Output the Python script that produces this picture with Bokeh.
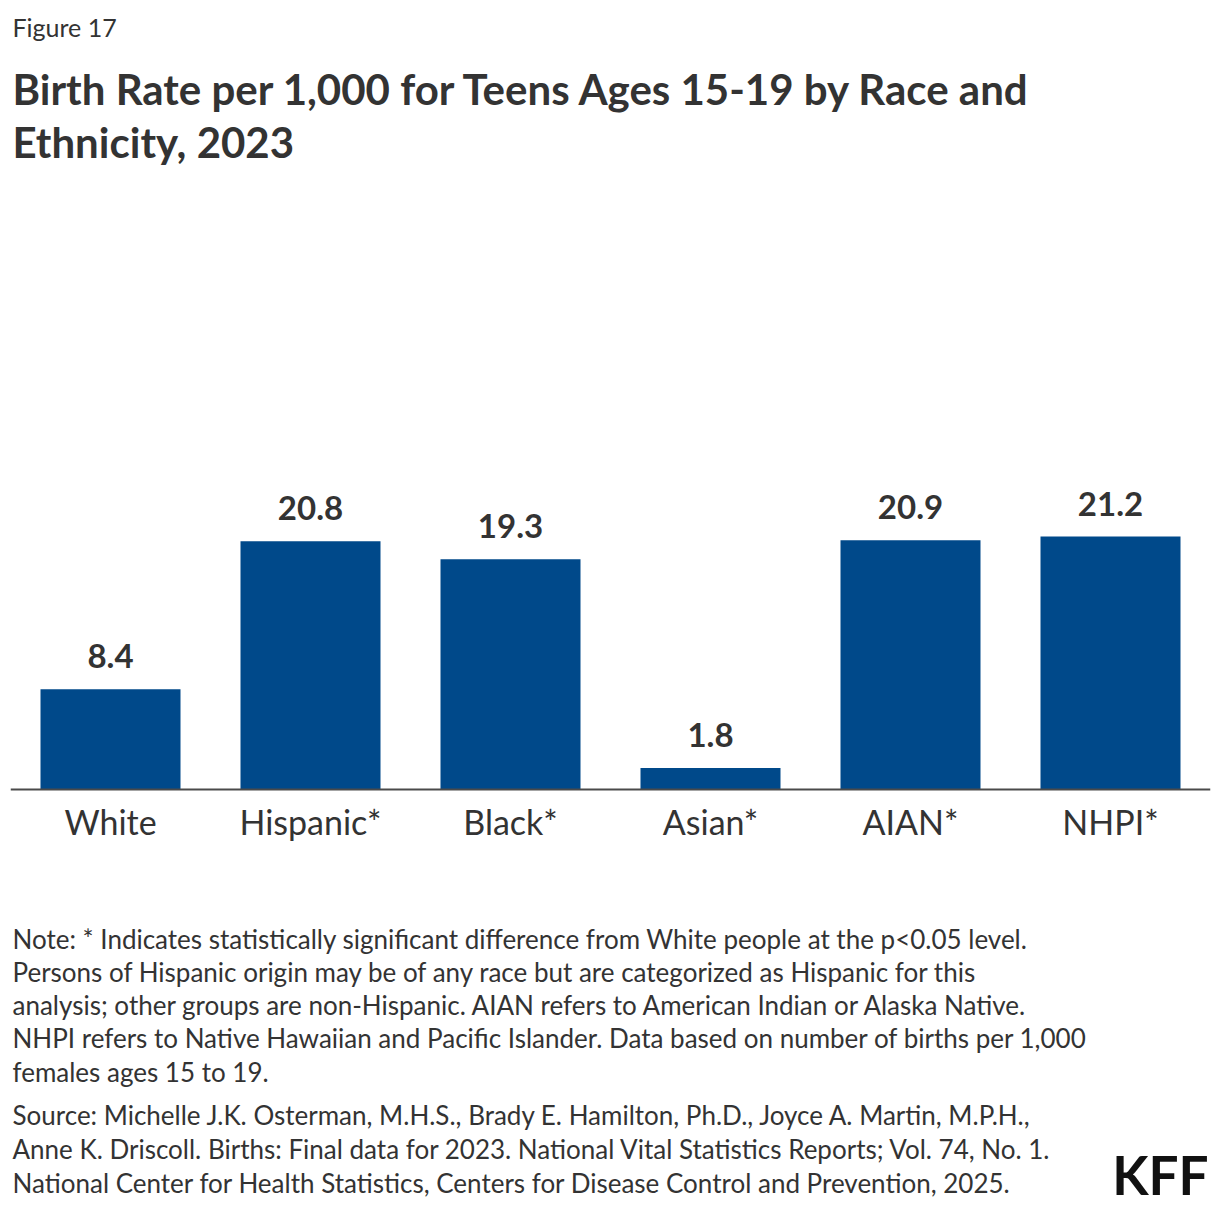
from bokeh.plotting import figure
from bokeh.models import ColumnDataSource, FactorRange, Range1d, Label
from bokeh.core.properties import value
from bokeh.embed import file_html
from bokeh.resources import INLINE

# ---- data ----
categories = ["White", "Hispanic*", "Black*", "Asian*", "AIAN*", "NHPI*"]
rates = [8.4, 20.8, 19.3, 1.8, 20.9, 21.2]
rate_labels = ["8.4", "20.8", "19.3", "1.8", "20.9", "21.2"]

figure_label = "Figure 17"
title_lines = [
    "Birth Rate per 1,000 for Teens Ages 15-19 by Race and",
    "Ethnicity, 2023",
]
note_lines = [
    "Note: * Indicates statistically significant difference from White people at the p<0.05 level.",
    "Persons of Hispanic origin may be of any race but are categorized as Hispanic for this",
    "analysis; other groups are non-Hispanic. AIAN refers to American Indian or Alaska Native.",
    "NHPI refers to Native Hawaiian and Pacific Islander. Data based on number of births per 1,000",
    "females ages 15 to 19.",
]
source_lines = [
    "Source: Michelle J.K. Osterman, M.H.S., Brady E. Hamilton, Ph.D., Joyce A. Martin, M.P.H.,",
    "Anne K. Driscoll. Births: Final data for 2023. National Vital Statistics Reports; Vol. 74, No. 1.",
    "National Center for Health Statistics, Centers for Disease Control and Prevention, 2025.",
]
logo_text = "KFF"

# ---- styles / layout ----
FONT = "Lato"
TEXT = "#333333"
BAR = "#00498A"

W, H = 1220, 1212
BASE_PX = 789        # pixel row of the zero line
PX_PER_UNIT = 11.93  # vertical scale
BASELINE_SHIFT = 0.42  # renderer's baseline offset, in em

src = ColumnDataSource(dict(cat=categories, val=rates, lbl=rate_labels))

p = figure(
    width=W, height=H,
    x_range=FactorRange(factors=categories),
    y_range=Range1d(-(H - BASE_PX) / PX_PER_UNIT, BASE_PX / PX_PER_UNIT),
    output_backend="svg", toolbar_location=None,
    min_border_left=10, min_border_right=10,
    min_border_top=0, min_border_bottom=0,
)
p.outline_line_color = None
p.background_fill_color = "white"
p.border_fill_color = "white"
p.xgrid.visible = False
p.ygrid.visible = False
p.yaxis.visible = False

p.vbar(x="cat", top="val", width=0.7, source=src, color=BAR, line_color=None)
p.text(x="cat", y="val", text="lbl", source=src, y_offset=-33,
       text_align="center", text_baseline="alphabetic",
       text_font=value(FONT), text_font_size=value("33px"),
       text_font_style="bold", text_color=TEXT)

ax = p.xaxis[0]
ax.fixed_location = 0
ax.axis_line_color = "#4a4a4a"
ax.axis_line_width = 2
ax.major_tick_line_color = None
ax.minor_tick_line_color = None
ax.major_tick_out = 0
ax.major_tick_in = 0
ax.major_label_standoff = 11
ax.major_label_text_font = FONT
ax.major_label_text_font_size = "34px"
ax.major_label_text_color = TEXT


def add_text(txt, x, baseline, size, bold=False, align="left", color=TEXT):
    p.add_layout(Label(x=x, y=baseline - BASELINE_SHIFT * size,
                       x_units="canvas", y_units="canvas", text=txt,
                       text_font=FONT, text_font_size=f"{size}px",
                       text_font_style="bold" if bold else "normal",
                       text_color=color, text_align=align,
                       text_baseline="alphabetic"))


add_text(figure_label, 12, 37, 25)
for i, line in enumerate(title_lines):
    add_text(line, 12, 106 + i * 53, 42, bold=True)
for i, line in enumerate(note_lines):
    add_text(line, 12, 949 + i * 33.25, 26)
for i, line in enumerate(source_lines):
    add_text(line, 12, 1125 + i * 34, 26)
add_text(logo_text, 1208, 1196, 53, bold=True, align="right", color="#111111")

open("out.html", "w").write(file_html(p, INLINE))
